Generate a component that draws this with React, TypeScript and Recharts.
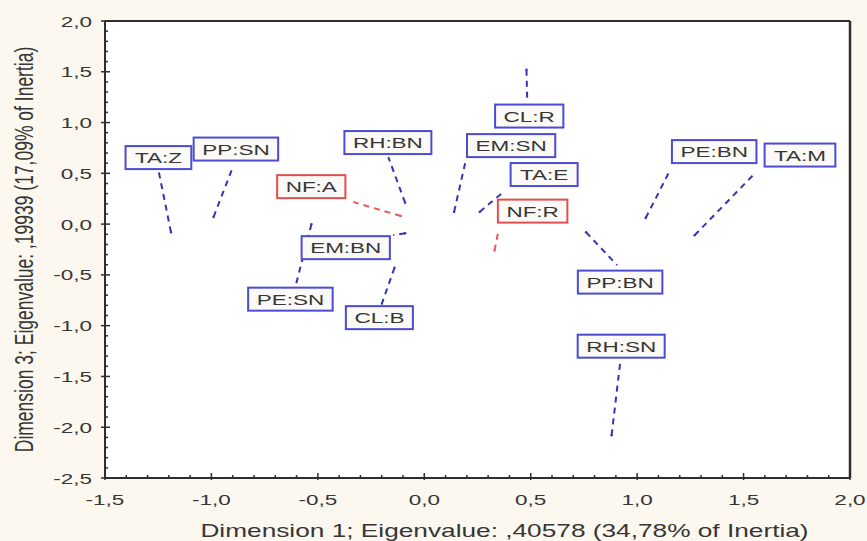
import React from 'react';
import {
  ScatterChart,
  Scatter,
  XAxis,
  YAxis,
  ReferenceLine,
  ReferenceDot,
  CartesianGrid,
} from 'recharts';

// Category points (Dimension 1 / Dimension 3 coordinates)
const categories = ['TA:Z', 'PP:SN', 'NF:A', 'RH:BN', 'EM:BN', 'PE:SN', 'CL:B', 'EM:SN', 'CL:R', 'TA:E', 'NF:R', 'PP:BN', 'RH:SN', 'PE:BN', 'TA:M'];
const dim1 = [-1.19, -0.99, -0.11, -0.09, -0.09, -0.53, -0.14, 0.14, 0.48, 0.26, 0.33, 0.76, 0.88, 1.04, 1.27];
const dim3 = [-0.08, 0.07, 0.08, 0.21, -0.09, 0.0, -0.43, 0.12, 1.52, 0.12, -0.26, -0.08, -2.08, 0.06, -0.11];

// Label box centres (in data units)
const labelDim1 = [-1.249, -0.885, -0.531, -0.171, -0.369, -0.629, -0.211, 0.408, 0.493, 0.563, 0.509, 0.92, 0.925, 1.362, 1.765];
const labelDim3 = [0.655, 0.739, 0.369, 0.803, -0.232, -0.739, -0.921, 0.773, 1.064, 0.488, 0.128, -0.571, -1.202, 0.714, 0.68];

// Leader-line end at the label box (in data units)
const leaderDim1 = [-1.249, -0.901, -0.333, -0.169, -0.146, -0.606, -0.202, 0.192, 0.484, 0.371, 0.347, 0.906, 0.92, 1.155, 1.554];
const leaderDim3 = [0.532, 0.552, 0.217, 0.66, -0.108, -0.621, -0.798, 0.601, 1.199, 0.315, -0.079, -0.404, -1.369, 0.532, 0.502];

// Supplementary (red) categories
const supplementary = ['NF:A', 'NF:R'];

// Tick labels
const xMajor = [-1.5, -1.0, -0.5, 0.0, 0.5, 1.0, 1.5, 2.0];
const yMajor = [-2.5, -2.0, -1.5, -1.0, -0.5, 0.0, 0.5, 1.0, 1.5, 2.0];
const xTicksAll = [
  -1.5, -1.4, -1.3, -1.2, -1.1, -1.0, -0.9, -0.8, -0.7, -0.6, -0.5, -0.4, -0.3, -0.2, -0.1,
  0.0, 0.1, 0.2, 0.3, 0.4, 0.5, 0.6, 0.7, 0.8, 0.9, 1.0, 1.1, 1.2, 1.3, 1.4, 1.5, 1.6, 1.7,
  1.8, 1.9, 2.0,
];
const yTicksAll = [
  -2.5, -2.4, -2.3, -2.2, -2.1, -2.0, -1.9, -1.8, -1.7, -1.6, -1.5, -1.4, -1.3, -1.2, -1.1,
  -1.0, -0.9, -0.8, -0.7, -0.6, -0.5, -0.4, -0.3, -0.2, -0.1, 0.0, 0.1, 0.2, 0.3, 0.4, 0.5,
  0.6, 0.7, 0.8, 0.9, 1.0, 1.1, 1.2, 1.3, 1.4, 1.5, 1.6, 1.7, 1.8, 1.9, 2.0,
];

const xTitle = 'Dimension 1; Eigenvalue: ,40578 (34,78% of Inertia)';
const yTitle = 'Dimension 3; Eigenvalue: ,19939 (17,09% of Inertia)';

const FONT = '"Liberation Sans", Arial, Helvetica, sans-serif';
const STRETCH = 1.5;
const BLUE_LINE = '#3434b8';
const BLUE_BOX = '#4b4bd4';
const RED_LINE = '#e25a5a';
const RED_BOX = '#e05050';
const AXIS = '#2e2e2e';
const TEXT = '#363636';

const charW: Record<string, number> = {
  A: 0.667, B: 0.667, C: 0.722, E: 0.667, F: 0.611, H: 0.722, L: 0.556, M: 0.833,
  N: 0.722, P: 0.667, R: 0.722, S: 0.667, T: 0.611, Z: 0.611, ':': 0.278,
};
const textEm = (s: string) => s.split('').reduce((a, c) => a + (charW[c] ?? 0.6), 0);

const fmt = (v: number) => v.toFixed(1).replace('.', ',');
const isMajor = (list: number[], v: number) => list.some((m) => Math.abs(m - v) < 1e-6);

const BottomTick = (props: any) => {
  const { x, y, payload } = props;
  const v = payload.value as number;
  const major = isMajor(xMajor, v);
  return (
    <g>
      <line x1={x} x2={x} y1={y + (major ? 2 : 0)} y2={y - (major ? 5 : 3)} stroke={AXIS} strokeWidth={1.5} />
      {major && (
        <text
          transform={`translate(${x},${y + 27}) scale(${STRETCH},1)`}
          textAnchor="middle"
          fontSize={15}
          fontFamily={FONT}
          fill={TEXT}
        >
          {fmt(v)}
        </text>
      )}
    </g>
  );
};

const LeftTick = (props: any) => {
  const { x, y, payload } = props;
  const v = payload.value as number;
  const major = isMajor(yMajor, v);
  return (
    <g>
      <line x1={x - (major ? 4 : 0)} x2={x + (major ? 5 : 3)} y1={y} y2={y} stroke={AXIS} strokeWidth={1.5} />
      {major && (
        <text
          transform={`translate(${x - 13},${y + 5.5}) scale(${STRETCH},1)`}
          textAnchor="end"
          fontSize={15}
          fontFamily={FONT}
          fill={TEXT}
        >
          {fmt(v)}
        </text>
      )}
    </g>
  );
};

const XTitle = (props: any) => {
  const vb = props.viewBox;
  const cx = vb.x + vb.width / 2 + 27;
  return (
    <text
      transform={`translate(${cx},${vb.y + 59}) scale(${STRETCH},1)`}
      textAnchor="middle"
      fontSize={17.5}
      fontFamily={FONT}
      fill={TEXT}
    >
      {xTitle}
    </text>
  );
};

const YTitle = (props: any) => {
  const vb = props.viewBox;
  const cy = vb.y + vb.height / 2;
  return (
    <text
      transform={`translate(33,${cy}) scale(${STRETCH},1) rotate(-90)`}
      textAnchor="middle"
      fontSize={17.5}
      fontFamily={FONT}
      fill={TEXT}
    >
      {yTitle}
    </text>
  );
};

const makeBox = (text: string, color: string) => (p: any) => {
  const { cx, cy } = p;
  const w = textEm(text) * 15 * STRETCH + 17;
  const h = 23;
  return (
    <g>
      <rect x={cx - w / 2} y={cy - h / 2} width={w} height={h} fill="#fbfaf6" stroke={color} strokeWidth={2} />
      <text
        transform={`translate(${cx},${cy + 5.5}) scale(${STRETCH},1)`}
        textAnchor="middle"
        fontSize={15}
        fontFamily={FONT}
        fill={TEXT}
      >
        {text}
      </text>
    </g>
  );
};

const points = categories.map((c, i) => ({ x: dim1[i], y: dim3[i], label: c }));

const PointShape = (p: any) => {
  const red = supplementary.includes(p.payload?.label);
  return <circle cx={p.cx} cy={p.cy} r={1.2} fill={red ? RED_LINE : BLUE_LINE} />;
};

export default function App() {
  return (
    <div
      style={{
        position: 'absolute',
        left: 0,
        top: 0,
        width: 867,
        height: 541,
        background: '#fcf8ef',
        overflow: 'hidden',
      }}
    >
      <ScatterChart width={867} height={541} margin={{ top: 21, right: 17, bottom: 0, left: 0 }}>
        <CartesianGrid fill="#ffffff" stroke="none" horizontal={false} vertical={false} />
        <XAxis
          dataKey="x"
          type="number"
          domain={[-1.5, 2]}
          ticks={xTicksAll}
          interval={0}
          allowDataOverflow
          height={63}
          tickSize={0}
          tickMargin={0}
          tickLine={false}
          tick={<BottomTick />}
          axisLine={{ stroke: AXIS, strokeWidth: 2 }}
          label={{ content: <XTitle /> }}
        />
        <XAxis
          xAxisId="top"
          orientation="top"
          mirror
          type="number"
          domain={[-1.5, 2]}
          ticks={xTicksAll}
          interval={0}
          allowDataOverflow
          tick={false}
          tickSize={3}
          tickLine={{ stroke: AXIS, strokeWidth: 1.2 }}
          axisLine={{ stroke: AXIS, strokeWidth: 2 }}
        />
        <YAxis
          dataKey="y"
          type="number"
          domain={[-2.5, 2]}
          ticks={yTicksAll}
          interval={0}
          allowDataOverflow
          width={105}
          tickSize={0}
          tickMargin={0}
          tickLine={false}
          tick={<LeftTick />}
          axisLine={{ stroke: AXIS, strokeWidth: 2 }}
          label={{ content: <YTitle /> }}
        />
        <YAxis
          yAxisId="right"
          orientation="right"
          mirror
          type="number"
          domain={[-2.5, 2]}
          ticks={yTicksAll}
          interval={0}
          allowDataOverflow
          tick={false}
          tickSize={3}
          tickLine={{ stroke: AXIS, strokeWidth: 1.2 }}
          axisLine={{ stroke: AXIS, strokeWidth: 2.5 }}
        />
        {categories.map((c, i) => {
          const red = supplementary.includes(c);
          return (
            <ReferenceLine
              key={`l-${c}`}
              segment={[
                { x: dim1[i], y: dim3[i] },
                { x: leaderDim1[i], y: leaderDim3[i] },
              ]}
              stroke={red ? RED_LINE : BLUE_LINE}
              strokeWidth={2}
              strokeDasharray="6 5"
              ifOverflow="visible"
            />
          );
        })}
        <Scatter data={points} isAnimationActive={false} shape={<PointShape />} />
        {categories.map((c, i) => {
          const red = supplementary.includes(c);
          return (
            <ReferenceDot
              key={`b-${c}`}
              x={labelDim1[i]}
              y={labelDim3[i]}
              r={1}
              ifOverflow="visible"
              shape={makeBox(c, red ? RED_BOX : BLUE_BOX)}
            />
          );
        })}
      </ScatterChart>
    </div>
  );
}
